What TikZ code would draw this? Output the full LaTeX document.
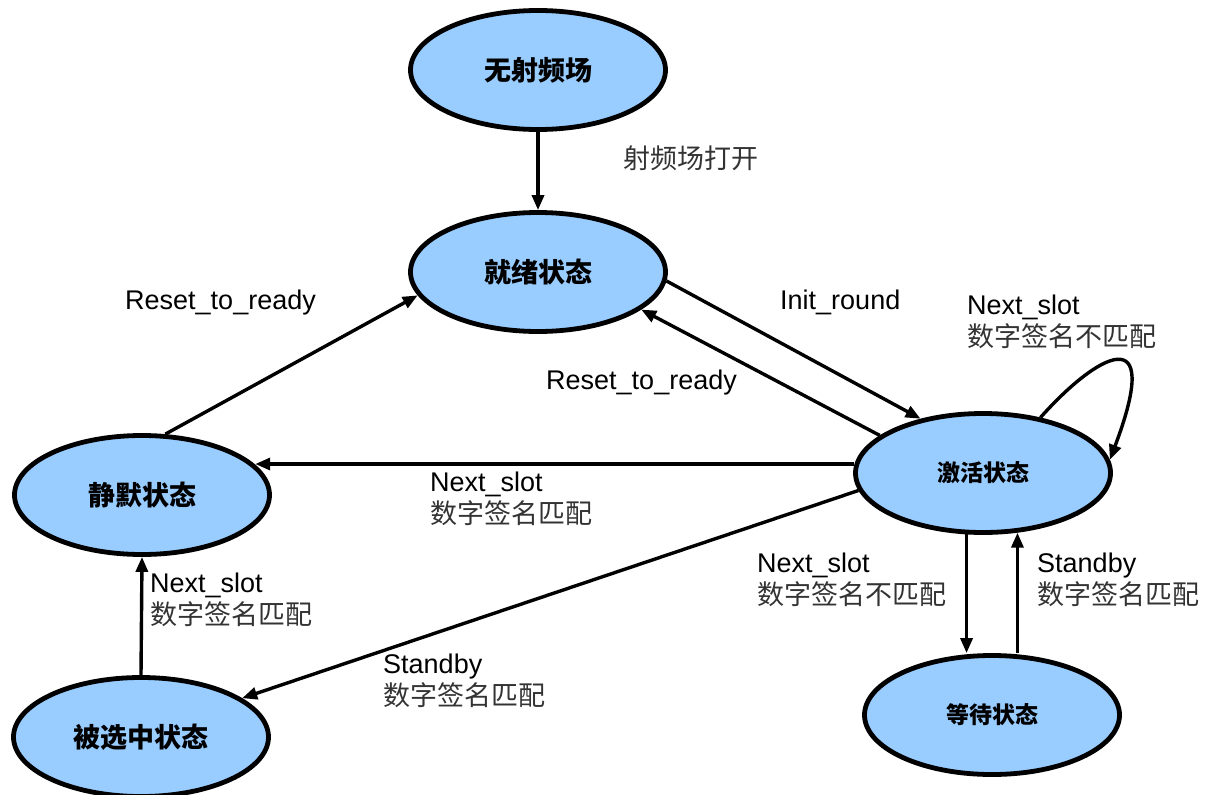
\documentclass[tikz,border=0pt]{standalone}
\usepackage{fontspec}
\setmainfont{Liberation Sans}
\newfontfamily\cjk{Noto Sans CJK SC}
\usetikzlibrary{shapes.geometric,arrows.meta}
\begin{document}
\begin{tikzpicture}[x=1pt,y=-1pt,
  state/.style={ellipse, draw=black, line width=4.8pt, fill=stateblue,
    minimum width=255pt, minimum height=119pt, inner sep=0pt,
    font=\cjk\bfseries\fontsize{27}{32}\selectfont},
  smallstate/.style={state, font=\cjk\bfseries\fontsize{23}{28}\selectfont},
  conn/.style={line width=3.4pt, -{Triangle[length=15pt,width=12pt]}},
  lbl/.style={anchor=base west, inner sep=0pt, font=\fontsize{27}{32}\selectfont}]
\definecolor{stateblue}{HTML}{99CCFF}
\useasboundingbox[fill=white] (0,0) rectangle (1216,795);

% states
\node[state] (off)      at (538,70)  {无射频场};
\node[state] (ready)    at (538,272) {就绪状态};
\node[smallstate] (active) at (983,473) {激活状态};
\node[state] (silent)   at (142,495) {静默状态};
\node[state] (selected) at (141,737) {被选中状态};
\node[smallstate] (wait) at (992,715) {等待状态};

% transitions
\draw[conn] (off.south) -- (ready.north);
\draw[conn] (ready.-4) -- (active.139);
\draw[conn] (active.160) -- (ready.-20);
\draw[conn] (silent.69) -- (ready.191);
\draw[conn] (active.176) -- (silent.15 |- active.176);
\draw[conn] (active.188) -- (selected.21);
\draw[conn] (selected.north) -- (silent.south);
\draw[conn] (active.-105) -- (active.-105 |- wait.north);
\draw[conn] (active.-60 |- wait.north) -- (active.-60);
\draw[conn] (active.44) .. controls +(55,-62) and +(55,-145) .. (active.6);

% labels
\node[lbl] (l1) at (623,168) {\cjk\color{black!80}射频场打开};
\node[lbl] (l2) at (780,309) {Init\_round};
\node[lbl] (l3) at (125,309) {Reset\_to\_ready};
\node[lbl] (l4) at (546,389) {Reset\_to\_ready};
\node[lbl] (l5) at (967,314) {\begin{tabular}[t]{@{}l@{}}Next\_slot\\{\cjk\color{black!80}数字签名不匹配}\end{tabular}};
\node[lbl] (l6) at (430,491) {\begin{tabular}[t]{@{}l@{}}Next\_slot\\{\cjk\color{black!80}数字签名匹配}\end{tabular}};
\node[lbl] (l7) at (150,592) {\begin{tabular}[t]{@{}l@{}}Next\_slot\\{\cjk\color{black!80}数字签名匹配}\end{tabular}};
\node[lbl] (l8) at (383,673) {\begin{tabular}[t]{@{}l@{}}Standby\\{\cjk\color{black!80}数字签名匹配}\end{tabular}};
\node[lbl] (l9) at (757,572) {\begin{tabular}[t]{@{}l@{}}Next\_slot\\{\cjk\color{black!80}数字签名不匹配}\end{tabular}};
\node[lbl] (l10) at (1037,572) {\begin{tabular}[t]{@{}l@{}}Standby\\{\cjk\color{black!80}数字签名匹配}\end{tabular}};
\end{tikzpicture}
\end{document}
